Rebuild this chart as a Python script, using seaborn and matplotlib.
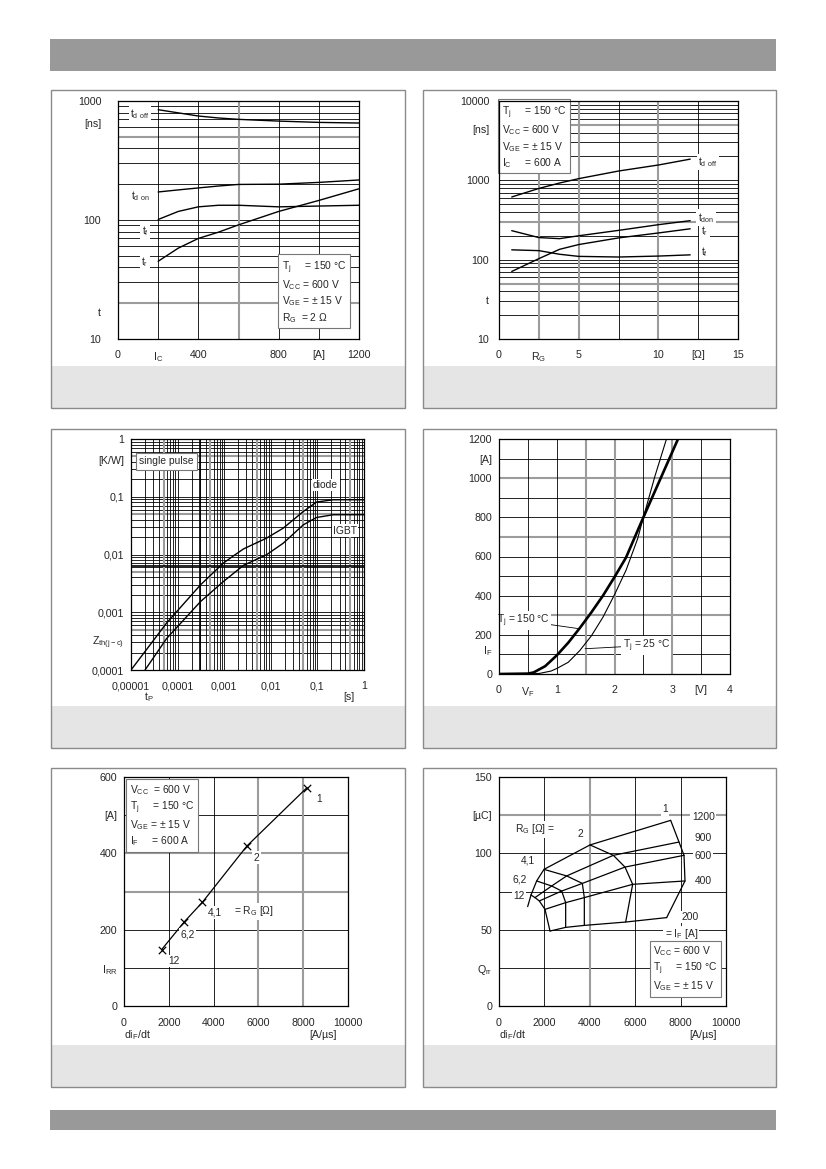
import matplotlib
matplotlib.use("Agg")
import matplotlib.pyplot as plt
from matplotlib.patches import Rectangle
from matplotlib.ticker import NullLocator
import seaborn as sns

sns.set_style("white")
plt.rcParams["font.family"] = ["Liberation Sans", "DejaVu Sans"]
plt.rcParams["mathtext.default"] = "regular"
plt.rcParams["font.size"] = 7.2

# ---- panel 1: switching times vs collector current
ic = [200, 300, 400, 500, 600, 800, 1000, 1200]
td_off_ic = [845, 795, 748, 720, 701, 678, 661, 653]
td_on_ic = [172, 179, 186, 193, 199, 200, 207, 217]
tf_ic = [101, 118, 129, 133, 133, 129, 131, 133]
tr_ic = [45, 58, 70, 79, 91, 118, 146, 183]

# ---- panel 2: switching times vs gate resistor
rg = [0.8, 2.5, 3.8, 5, 7.5, 10, 12]
td_off_rg = [617, 790, 925, 1050, 1310, 1560, 1850]
td_on_rg = [232, 190, 184, 200, 234, 276, 310]
tr_rg = [71, 103, 135, 155, 188, 217, 245]
tf_rg = [133, 130, 117, 110, 108, 111, 115]

# ---- panel 3: transient thermal impedance
tp_diode = [1e-5, 5.8e-5, 3.1e-4, 9.6e-4, 1.5e-3, 2.6e-3, 8.1e-3, 0.0185, 0.05, 0.096, 0.22, 1]
z_diode = [1e-4, 6.5e-4, 2.98e-3, 7.1e-3, 9.2e-3, 0.0125, 0.0192, 0.0286, 0.0557, 0.081, 0.0887, 0.0887]
tp_igbt = [2e-5, 5.8e-5, 3.1e-4, 9.6e-4, 2.6e-3, 8.1e-3, 0.0185, 0.05, 0.096, 0.22, 1]
z_igbt = [1e-4, 3.5e-4, 1.53e-3, 3.4e-3, 6.5e-3, 9.9e-3, 0.0157, 0.0327, 0.0438, 0.0488, 0.0488]

# ---- panel 4: diode forward characteristic
vf_150 = [0, 0.5, 0.6, 0.8, 1.0, 1.2, 1.4, 1.6, 1.8, 2.0, 2.2, 2.5, 2.8, 3.1]
if_150 = [0, 2, 8, 40, 95, 160, 235, 315, 400, 495, 595, 800, 1000, 1200]
vf_25 = [0.5, 0.7, 0.9, 1.0, 1.2, 1.4, 1.6, 1.8, 2.0, 2.2, 2.4, 2.5, 2.7, 2.9]
if_25 = [0, 3, 15, 28, 60, 120, 195, 290, 405, 530, 690, 800, 1010, 1200]

# ---- panel 5: peak reverse recovery current
didt_irr = [1684, 2683, 3502, 5484, 8167]
irr = [148, 220, 272, 419, 572]
irr_rg_labels = ["12", "6,2", "4,1", "2", "1"]

# ---- panel 6: recovered charge
qrr_rg = [1, 2, 4.1, 6.2, 12]
qrr_if = [1200, 900, 600, 400, 200]
qrr_didt = [
    [7562, 4009, 1982, 1659, 1410],
    [7930, 5037, 2981, 2320, 1586],
    [8150, 5551, 3671, 2761, 1777],
    [8194, 5888, 3759, 2937, 2026],
    [7386, 5580, 3759, 2937, 2247],
]
qrr_val = [
    [121.6, 105.5, 89.5, 81.9, 72.7],
    [107.4, 98.7, 85.2, 78.6, 71.0],
    [98.7, 91.0, 80.3, 75.3, 68.8],
    [81.9, 79.7, 71.0, 67.7, 63.3],
    [57.9, 55.0, 52.8, 51.5, 49.1],
]
qrr_tail_didt = [1410, 1263]
qrr_tail = [72.7, 65.1]

FW, FH = 826, 1169
TICK = 7.7
fig = plt.figure(figsize=(FW / 100, FH / 100), dpi=100)


def fbox(x0, y0, x1, y1):
    return [x0 / FW, 1 - y1 / FH, (x1 - x0) / FW, (y1 - y0) / FH]


def rect(x0, y0, x1, y1, **kw):
    b = fbox(x0, y0, x1, y1)
    fig.add_artist(Rectangle((b[0], b[1]), b[2], b[3], transform=fig.transFigure,
                             zorder=-10, **kw))


# page decoration
rect(50, 39, 776, 71, fc="#999999", ec="none")
rect(50, 1110, 776, 1130, fc="#999999", ec="none")
cols = [(51, 405), (423, 776)]
rows = [(90, 366, 408), (429, 706, 748), (768, 1045, 1087)]
for (y0, y1, y2) in rows:
    for (x0, x1) in cols:
        rect(x0, y0, x1, y2, fc="white", ec="none")
        rect(x0, y1, x1, y2, fc="#e5e5e5", ec="none")
        rect(x0, y0, x1, y2, fc="none", ec="#8a8a8a", lw=1.0)

BLACK = dict(color="black", lw=0.6, zorder=1)
GRAY = dict(color="#9c9c9c", lw=1.5, zorder=1)
WBOX = dict(fc="white", ec="none", pad=1.0)
IBOX = dict(boxstyle="square,pad=0.35", fc="white", ec="#777777", lw=0.8)


def setup(ax, xlim, ylim, xt, xl, yt, yl, logx=False, logy=False, xpad=8, ypad=6):
    if logx:
        ax.set_xscale("log")
    if logy:
        ax.set_yscale("log")
    ax.set_xlim(xlim)
    ax.set_ylim(ylim)
    ax.set_xticks(xt, labels=xl)
    ax.set_yticks(yt, labels=yl)
    ax.xaxis.set_minor_locator(NullLocator())
    ax.yaxis.set_minor_locator(NullLocator())
    ax.tick_params(axis="x", length=0, pad=xpad, labelsize=TICK)
    ax.tick_params(axis="y", length=0, pad=ypad, labelsize=TICK)
    ax.set_xlabel("")
    ax.set_ylabel("")
    for s in ax.spines.values():
        s.set_visible(True)
        s.set_color("black")
        s.set_linewidth(0.9)
        s.set_zorder(5)


def grid(ax, hb=(), hg=(), vb=(), vg=()):
    for y in hb:
        ax.axhline(y, **BLACK)
    for y in hg:
        ax.axhline(y, **GRAY)
    for x in vb:
        ax.axvline(x, **BLACK)
    for x in vg:
        ax.axvline(x, **GRAY)


def curve(ax, x, y, lw=1.0):
    sns.lineplot(x=x, y=y, ax=ax, color="black", lw=lw, estimator=None, sort=False, zorder=3)


def lab(ax, x, y, s, ha="center"):
    ax.text(x, y, s, ha=ha, va="center", fontsize=7.4, bbox=WBOX, zorder=4)


def sublabel(ax, x, s, dy):
    ax.annotate(s, xy=(x, 0), xycoords=("data", "axes fraction"), xytext=(0, -dy),
                textcoords="offset pixels", ha="center", va="center", fontsize=TICK)


log_minor = [m * 10 ** e for e in range(-5, 4) for m in range(2, 10)]

# ================= panel 1
ax1 = fig.add_axes(fbox(118, 101, 359, 339))
setup(ax1, (0, 1200), (10, 1000), [0, 200, 400, 800, 1000, 1200],
      ["0", "I$_C$", "400", "800", "[A]", "1200"],
      [10, 17, 100, 650, 1000], ["10", "t", "100", "[ns]", "1000"], logy=True, ypad=12)
grid(ax1, hb=[v for v in log_minor if 10 < v < 1000 and v not in (20, 500)] + [100],
     hg=[20, 500], vb=[200, 400, 800, 1000], vg=[600])
curve(ax1, ic, td_off_ic)
curve(ax1, ic, td_on_ic)
curve(ax1, ic, tf_ic)
curve(ax1, ic, tr_ic)
lab(ax1, 108, 773, "t$_{d\\ off}$")
lab(ax1, 110, 158, "t$_{d\\ on}$")
lab(ax1, 135, 80, "t$_f$")
lab(ax1, 135, 44, "t$_r$")
ax1.text(0.68, 0.06, "T$_j$     = 150 °C\nV$_{CC}$ = 600 V\nV$_{GE}$ = ± 15 V\nR$_G$  = 2 Ω",
         transform=ax1.transAxes, ha="left", va="bottom", fontsize=7.4, linespacing=1.25,
         bbox=IBOX, zorder=4)

# ================= panel 2
ax2 = fig.add_axes(fbox(499, 101, 738, 339))
setup(ax2, (0, 15), (10, 10000), [0, 2.5, 5, 10, 12.5, 15],
      ["0", "R$_G$", "5", "10", "[Ω]", "15"],
      [10, 31, 100, 1000, 4400, 10000], ["10", "t", "100", "1000", "[ns]", "10000"],
      logy=True, ypad=7)
grid(ax2, hb=[v for v in log_minor if 10 < v < 10000 and v not in (50, 300, 5000)] + [100, 1000],
     hg=[50, 300, 5000], vb=[7.5, 12.5], vg=[2.5, 5, 10])
curve(ax2, rg, td_off_rg)
curve(ax2, rg, td_on_rg)
curve(ax2, rg, tr_rg)
curve(ax2, rg, tf_rg)
lab(ax2, 13.1, 1710, "t$_{d\\ off}$")
lab(ax2, 13.0, 338, "t$_{don}$")
lab(ax2, 12.9, 229, "t$_r$")
lab(ax2, 12.9, 126, "t$_f$")
ax2.text(0.012, 0.985, "T$_j$     = 150 °C\nV$_{CC}$ = 600 V\nV$_{GE}$ = ± 15 V\nI$_C$     = 600 A",
         transform=ax2.transAxes, ha="left", va="top", fontsize=7.4, linespacing=1.25,
         bbox=IBOX, zorder=4)

# ================= panel 3
ax3 = fig.add_axes(fbox(131, 439, 364, 670))
setup(ax3, (1e-5, 1), (1e-4, 1), [1e-5, 1e-4, 1e-3, 1e-2, 1e-1, 1],
      ["0,00001", "0,0001", "0,001", "0,01", "0,1", "1"],
      [1e-4, 3.3e-4, 1e-3, 1e-2, 1e-1, 0.44, 1],
      ["0,0001", "Z$_{th(j-c)}$", "0,001", "0,01", "0,1", "[K/W]", "1"],
      logx=True, logy=True, ypad=5)
minor3 = [v for v in log_minor if round(v / 10 ** int(f"{v:e}".split("e")[1])) != 5]
five3 = [v for v in log_minor if round(v / 10 ** int(f"{v:e}".split("e")[1])) == 5]
grid(ax3, hb=[v for v in minor3 if 1e-4 < v < 1] + [1e-3, 1e-2, 1e-1],
     hg=[v for v in five3 if 1e-4 < v < 1],
     vb=[v for v in minor3 if 1e-5 < v < 1] + [1e-4, 1e-3, 1e-2, 1e-1],
     vg=[v for v in five3 if 1e-5 < v < 1])
ax3.axvline(3.1e-4, color="black", lw=1.2, zorder=1)
ax3.axhline(6.2e-3, color="black", lw=1.2, zorder=1)
curve(ax3, tp_diode, z_diode)
curve(ax3, tp_igbt, z_igbt)
lab(ax3, 0.15, 0.16, "diode")
lab(ax3, 0.39, 0.026, "IGBT")
ax3.text(0.035, 0.925, "single pulse", transform=ax3.transAxes, ha="left", va="top",
         fontsize=7.4, bbox=IBOX, zorder=4)
sublabel(ax3, 2.4e-5, "t$_P$", 27)
sublabel(ax3, 0.48, "[s]", 27)

# ================= panel 4
ax4 = fig.add_axes(fbox(499, 439, 730, 674))
setup(ax4, (0, 4), (0, 1200), [0, 0.5, 1, 2, 3, 3.5, 4],
      ["0", "V$_F$", "1", "2", "3", "[V]", "4"],
      [0, 125, 200, 400, 600, 800, 1000, 1100, 1200],
      ["0", "I$_F$", "200", "400", "600", "800", "1000", "[A]", "1200"], ypad=5)
grid(ax4, hb=[100, 200, 400, 500, 600, 800, 900, 1100], hg=[300, 700, 1000],
     vb=[0.5, 1, 2.5, 3.5], vg=[1.5, 2, 3])
curve(ax4, vf_150, if_150, lw=1.9)
curve(ax4, vf_25, if_25, lw=0.8)
ax4.annotate("T$_j$ = 150 °C", xy=(1.37, 232), xytext=(0.42, 272), ha="center", va="center",
             fontsize=7.4, bbox=WBOX, zorder=4,
             arrowprops=dict(arrowstyle="-", lw=0.6, color="black", shrinkA=0, shrinkB=0))
ax4.annotate("T$_j$ = 25 °C", xy=(1.49, 129), xytext=(2.55, 146), ha="center", va="center",
             fontsize=7.4, bbox=WBOX, zorder=4,
             arrowprops=dict(arrowstyle="-", lw=0.6, color="black", shrinkA=0, shrinkB=0))

# ================= panel 5
ax5 = fig.add_axes(fbox(124, 777, 348, 1006))
setup(ax5, (0, 10000), (0, 600), [0, 2000, 4000, 6000, 8000, 10000],
      ["0", "2000", "4000", "6000", "8000", "10000"],
      [0, 100, 200, 400, 500, 600], ["0", "I$_{RR}$", "200", "400", "[A]", "600"],
      xpad=9, ypad=5)
grid(ax5, hb=[100, 200, 500], hg=[300, 400], vb=[2000, 4000], vg=[6000, 8000])
curve(ax5, didt_irr, irr, lw=0.9)
sns.scatterplot(x=didt_irr, y=irr, ax=ax5, marker="x", color="black", s=28, linewidth=0.9, zorder=4)
for (dx, dy), s in zip([(2235, 118), (2832, 188), (4069, 246), (5902, 389), (8688, 543)], irr_rg_labels):
    lab(ax5, dx, dy, s)
lab(ax5, 4900, 248, "= R$_G$ [Ω]", ha="left")
ax5.text(0.025, 0.975, "V$_{CC}$  = 600 V\nT$_j$     = 150 °C\nV$_{GE}$ = ± 15 V\nI$_F$     = 600 A",
         transform=ax5.transAxes, ha="left", va="top", fontsize=7.4, linespacing=1.25,
         bbox=IBOX, zorder=4)
sublabel(ax5, 600, "di$_F$/dt", 29)
sublabel(ax5, 8900, "[A/µs]", 29)
ax5.set_xlabel("")
ax5.set_ylabel("")

# ================= panel 6
ax6 = fig.add_axes(fbox(499, 777, 726, 1006))
setup(ax6, (0, 10000), (0, 150), [0, 2000, 4000, 6000, 8000, 10000],
      ["0", "2000", "4000", "6000", "8000", "10000"],
      [0, 25, 50, 100, 125, 150], ["0", "Q$_{rr}$", "50", "100", "[µC]", "150"],
      xpad=9, ypad=5)
grid(ax6, hb=[25, 50, 75, 100], hg=[125], vb=[2000, 6000, 8000], vg=[4000])
for row_x, row_y in zip(qrr_didt, qrr_val):
    curve(ax6, row_x, row_y, lw=0.9)
for j in range(len(qrr_rg)):
    curve(ax6, [r[j] for r in qrr_didt], [r[j] for r in qrr_val], lw=0.9)
curve(ax6, qrr_tail_didt, qrr_tail, lw=0.9)
for (dx, dy), s in zip([(7313, 128.8), (3568, 112.4), (1292, 95), (925, 83), (880, 72)],
                       ["1", "2", "4,1", "6,2", "12"]):
    lab(ax6, dx, dy, s)
lab(ax6, 700, 115.7, "R$_G$ [Ω] =", ha="left")
for dy, s in zip([123.8, 110, 98.3, 81.9, 58.3], qrr_if):
    lab(ax6, 9000 if s != 200 else 8400, dy, str(s))
lab(ax6, 7300, 47, "= I$_F$ [A]", ha="left")
ax6.text(0.68, 0.055, "V$_{CC}$ = 600 V\nT$_j$     = 150 °C\nV$_{GE}$ = ± 15 V",
         transform=ax6.transAxes, ha="left", va="bottom", fontsize=7.4, linespacing=1.25,
         bbox=IBOX, zorder=4)
sublabel(ax6, 600, "di$_F$/dt", 29)
sublabel(ax6, 8970, "[A/µs]", 29)

fig.savefig("out.png", dpi=100)
